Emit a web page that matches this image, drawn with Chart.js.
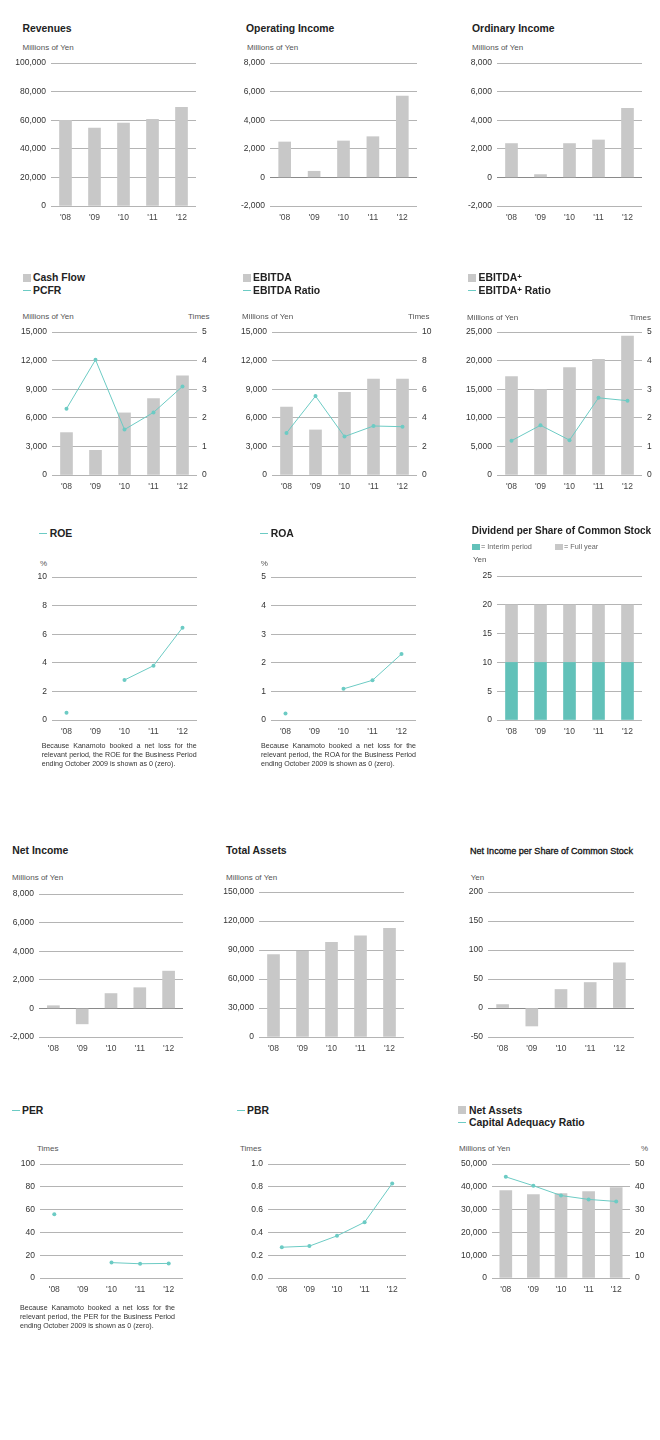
<!DOCTYPE html>
<html><head><meta charset="utf-8">
<script src="https://cdn.jsdelivr.net/npm/chart.js@4.4.0/dist/chart.umd.min.js"></script>
<style>
html,body{margin:0;padding:0;background:#fff;}
body{position:relative;width:660px;height:1440px;overflow:hidden;font-family:"Liberation Sans",Arial,sans-serif;}
.t{position:absolute;white-space:nowrap;line-height:14px;color:#222;}
.title{font-weight:bold;font-size:10.4px;color:#222;}
.unit{font-size:8px;color:#555;}
.note{font-size:7.1px;color:#333;width:155px;white-space:normal;}
.j{text-align:justify;text-align-last:justify;}
.lg{font-size:7.3px;color:#666;}
.sq{position:absolute;}
.ln{position:absolute;height:1px;}
canvas{position:absolute;}
</style></head><body>
<script>
// ---------- data ----------
const years = ["'08","'09","'10","'11","'12"];
const revenues = [60000, 54500, 58000, 60700, 69000];
const operatingIncome = [2480, 430, 2550, 2850, 5700];
const ordinaryIncome = [2370, 200, 2370, 2620, 4830];
const cashFlow = [4450, 2590, 6520, 8030, 10410];
const pcfr = [2.32, 4.03, 1.59, 2.19, 3.10];
const ebitda = [7140, 4730, 8690, 10080, 10080];
const ebitdaRatio = [2.94, 5.52, 2.69, 3.43, 3.38];
const ebitdaPlus = [17240, 14940, 18790, 20230, 24310];
const ebitdaPlusRatio = [1.20, 1.74, 1.22, 2.70, 2.60];
const roe = [0.5, null, 2.8, 3.8, 6.46];
const roa = [0.23, null, 1.09, 1.39, 2.31];
const dividendInterim = [10, 10, 10, 10, 10];
const dividendFullYear = [20, 20, 20, 20, 20];
const netIncome = [190, -1080, 1040, 1450, 2610];
const totalAssets = [85300, 88600, 97900, 104700, 112500];
const netIncomePerShare = [6, -31, 32, 44, 78];
const per = [56, null, 13.5, 12.5, 12.8];
const pbr = [0.27, 0.28, 0.37, 0.49, 0.83];
const netAssets = [38400, 36600, 37100, 37900, 39700];
const capitalAdequacyRatio = [44.4, 40.5, 36.2, 34.5, 33.6];

// axis ranges [min, max, step]
const revenuesAxis = [0, 100000, 20000];
const incomeAxis = [-2000, 8000, 2000];
const cashAxis = [0, 15000, 3000];
const pcfrAxis = [0, 5, 1];
const ebitdaRatioAxis = [0, 10, 2];
const ebitdaPlusAxis = [0, 25000, 5000];
const roeAxis = [0, 10, 2];
const roaAxis = [0, 5, 1];
const dividendAxis = [0, 25, 5];
const totalAssetsAxis = [0, 150000, 30000];
const perShareAxis = [-50, 200, 50];
const perAxis = [0, 100, 20];
const pbrAxis = [0, 1, 0.2];
const netAssetsAxis = [0, 50000, 10000];
const ratioAxis = [0, 50, 10];

// ---------- helpers ----------
const FONT = '"Liberation Sans", Arial, sans-serif';
const GREY = '#c8c8c8', TEAL = '#6ccbc4', TEAL_BAR = '#62c1b9';

function T(x, cy, s, cls, right){
  const d = document.createElement('div');
  d.className = 't ' + cls; d.innerHTML = s;
  if (right) d.style.right = (660 - x) + 'px'; else d.style.left = x + 'px';
  d.style.top = (cy - 7) + 'px';
  document.body.appendChild(d); return d;
}
function SQ(x, y, w, h, col){
  const d = document.createElement('div'); d.className='sq';
  Object.assign(d.style,{left:x+'px',top:y+'px',width:w+'px',height:h+'px',background:col});
  document.body.appendChild(d);
}
function LN(x, y, w, col){
  const d = document.createElement('div'); d.className='ln';
  Object.assign(d.style,{left:x+'px',top:y+'px',width:w+'px',background:col});
  document.body.appendChild(d);
}
function NOTE(x, cy, lines){
  lines.forEach((l,i)=>{
    const d = T(x, cy + i*9.2, l, 'note' + (i < lines.length-1 ? ' j' : ''));
    if (i === lines.length-1) { d.style.width = 'auto'; d.style.whiteSpace = 'nowrap'; }
  });
}
function fmt(dec){ return v => dec ? Number(v).toFixed(dec) : Number(v).toLocaleString('en-US'); }
function axis(range, pos, width, dec){
  return {
    position: pos, min: range[0], max: range[1],
    ticks: {stepSize: range[2], padding: 5, font: {family: FONT, size: 8.5}, color: '#333', callback: fmt(dec)},
    grid: pos === 'left'
      ? {drawTicks: false, lineWidth: 1, color: c => (c.tick && c.tick.value === 0 && range[0] < 0) ? '#8a8a8a' : '#b4b4b4'}
      : {display: false, drawTicks: false},
    border: {display: false},
    afterFit(s){ s.width = width; }
  };
}
function make(p, datasets, yRange, y2Range, opts){
  opts = opts || {};
  const LW = 60, RW = y2Range ? 30 : 12, TP = 8, XH = 24;
  const w = Math.round(p[1]-p[0]) + LW + RW, h = Math.round(p[3]-p[2]) + TP + XH;
  const c = document.createElement('canvas');
  c.width = w; c.height = h;
  c.style.left = (p[0]-LW) + 'px'; c.style.top = (p[2]-TP) + 'px';
  c.style.width = w + 'px'; c.style.height = h + 'px';
  document.body.appendChild(c);
  const scales = {
    x: {stacked: !!opts.stacked, offset: true, grid: {display: false, drawTicks: false}, border: {display: false},
        ticks: {padding: 7, font: {family: FONT, size: 8.5}, color: '#444', maxRotation: 0, autoSkip: false},
        afterFit(s){ s.height = XH; }},
    y: Object.assign(axis(yRange, 'left', LW, opts.dec), {stacked: !!opts.stacked})
  };
  if (y2Range) scales.y2 = axis(y2Range, 'right', RW, 0);
  new Chart(c, {type: 'bar', data: {labels: years, datasets},
    options: {responsive: false, animation: false, devicePixelRatio: 1,
      layout: {padding: {top: TP, left: 0, right: y2Range ? 0 : RW, bottom: 0}},
      plugins: {legend: {display: false}, tooltip: {enabled: false}}, scales}});
}
const bar = (data, col) => ({data, backgroundColor: col || GREY, barThickness: 12, order: 2, yAxisID: 'y'});
const line = (data, ax) => ({type: 'line', data, yAxisID: ax || 'y', borderColor: TEAL, backgroundColor: TEAL,
  borderWidth: 1, pointRadius: 2, pointHoverRadius: 2, pointBorderWidth: 0, tension: 0, order: 1, spanGaps: false});

// ---------- row 1 ----------
T(22.5, 28.5, 'Revenues', 'title');
T(22.5, 47.5, 'Millions of Yen', 'unit');
make([51, 196, 61, 206], [bar(revenues)], revenuesAxis);

T(246, 28.5, 'Operating Income', 'title');
T(247, 47.5, 'Millions of Yen', 'unit');
make([270, 417, 61, 206], [bar(operatingIncome)], incomeAxis);

T(472, 28.5, 'Ordinary Income', 'title');
T(472, 47.5, 'Millions of Yen', 'unit');
make([497, 642, 61, 206], [bar(ordinaryIncome)], incomeAxis);

// ---------- row 2 ----------
SQ(23, 274, 8, 8, GREY); T(33, 278, 'Cash Flow', 'title');
LN(23, 290, 8, TEAL); T(33, 290.7, 'PCFR', 'title');
T(22.5, 317, 'Millions of Yen', 'unit'); T(209.5, 317, 'Times', 'unit', true);
make([52, 197, 330, 475], [bar(cashFlow), line(pcfr, 'y2')], cashAxis, pcfrAxis);

SQ(243, 274, 8, 8, GREY); T(253, 278, 'EBITDA', 'title');
LN(243, 290, 8, TEAL); T(253, 290.7, 'EBITDA Ratio', 'title');
T(242, 317, 'Millions of Yen', 'unit'); T(429.5, 317, 'Times', 'unit', true);
make([272, 417, 330, 475], [bar(ebitda), line(ebitdaRatio, 'y2')], cashAxis, ebitdaRatioAxis);

SQ(468, 274, 8, 8, GREY); T(478.5, 278, 'EBITDA<span style="font-size:8px;position:relative;top:-2px">+</span>', 'title');
LN(468, 290, 8, TEAL); T(478.5, 290.7, 'EBITDA<span style="font-size:8px;position:relative;top:-2px">+</span> Ratio', 'title');
T(467, 318, 'Millions of Yen', 'unit'); T(651, 318, 'Times', 'unit', true);
make([497, 642, 330, 475], [bar(ebitdaPlus), line(ebitdaPlusRatio, 'y2')], ebitdaPlusAxis, pcfrAxis);

// ---------- row 3 ----------
LN(39, 533, 8, TEAL); T(49.7, 533.7, 'ROE', 'title');
T(40, 564.3, '%', 'unit');
make([52, 197, 575, 720], [line(roe)], roeAxis);
NOTE(41.7, 746, ['Because Kanamoto booked a net loss for the', 'relevant period, the ROE for the Business Period', 'ending October 2009 is shown as 0 (zero).']);

LN(260, 533, 8, TEAL); T(270.7, 533.7, 'ROA', 'title');
T(260.7, 564.3, '%', 'unit');
make([271, 416, 575, 720], [line(roa)], roaAxis, null, {dec: 0});
NOTE(261, 746, ['Because Kanamoto booked a net loss for the', 'relevant period, the ROA for the Business Period', 'ending October 2009 is shown as 0 (zero).']);

T(471.7, 530.7, 'Dividend per Share of Common Stock', 'title').style.fontSize = '10px';
SQ(472.3, 543.5, 8, 6, TEAL_BAR); T(481, 546.5, '= Interim period', 'lg');
SQ(555, 543.5, 8, 6, GREY); T(564, 546.5, '= Full year', 'lg');
T(473, 560, 'Yen', 'unit');
make([497, 642, 574, 720], [
  Object.assign(bar(dividendInterim, TEAL_BAR), {stack: 's'}),
  Object.assign(bar(dividendFullYear.map((v, i) => v - dividendInterim[i]), GREY), {stack: 's'})
], dividendAxis, null, {stacked: true});

// ---------- row 4 ----------
T(12.3, 850.7, 'Net Income', 'title');
T(12, 878, 'Millions of Yen', 'unit');
make([39, 183, 892, 1037], [bar(netIncome)], incomeAxis);

T(226, 850.7, 'Total Assets', 'title');
T(226, 878, 'Millions of Yen', 'unit');
make([259, 404, 890, 1037], [bar(totalAssets)], totalAssetsAxis);

const nt = T(470, 850.7, 'Net Income per Share of Common Stock', 'title');
nt.style.fontSize = '9.05px'; nt.style.fontWeight = 'normal'; nt.style.color = '#111'; nt.style.webkitTextStroke = '0.3px #111';
T(470.7, 878, 'Yen', 'unit');
make([488, 634, 890, 1037], [bar(netIncomePerShare)], perShareAxis);

// ---------- row 5 ----------
LN(12, 1110, 8, TEAL); T(22, 1110.5, 'PER', 'title');
T(37, 1149, 'Times', 'unit');
make([40, 183, 1162, 1278], [line(per)], perAxis);
NOTE(20, 1308, ['Because Kanamoto booked a net loss for the', 'relevant period, the PER for the Business Period', 'ending October 2009 is shown as 0 (zero).']);

LN(237, 1110, 8, TEAL); T(247, 1110.5, 'PBR', 'title');
T(240, 1149, 'Times', 'unit');
make([268, 406, 1162, 1278], [line(pbr)], pbrAxis, null, {dec: 1});

SQ(458, 1106, 8, 8, GREY); T(469, 1110.5, 'Net Assets', 'title');
LN(458, 1122, 8, TEAL); T(469, 1122.5, 'Capital Adequacy Ratio', 'title');
T(459, 1149, 'Millions of Yen', 'unit'); T(648, 1149, '%', 'unit', true);
make([492, 630, 1162, 1278], [bar(netAssets), line(capitalAdequacyRatio, 'y2')], netAssetsAxis, ratioAxis);
</script>
</body></html>
